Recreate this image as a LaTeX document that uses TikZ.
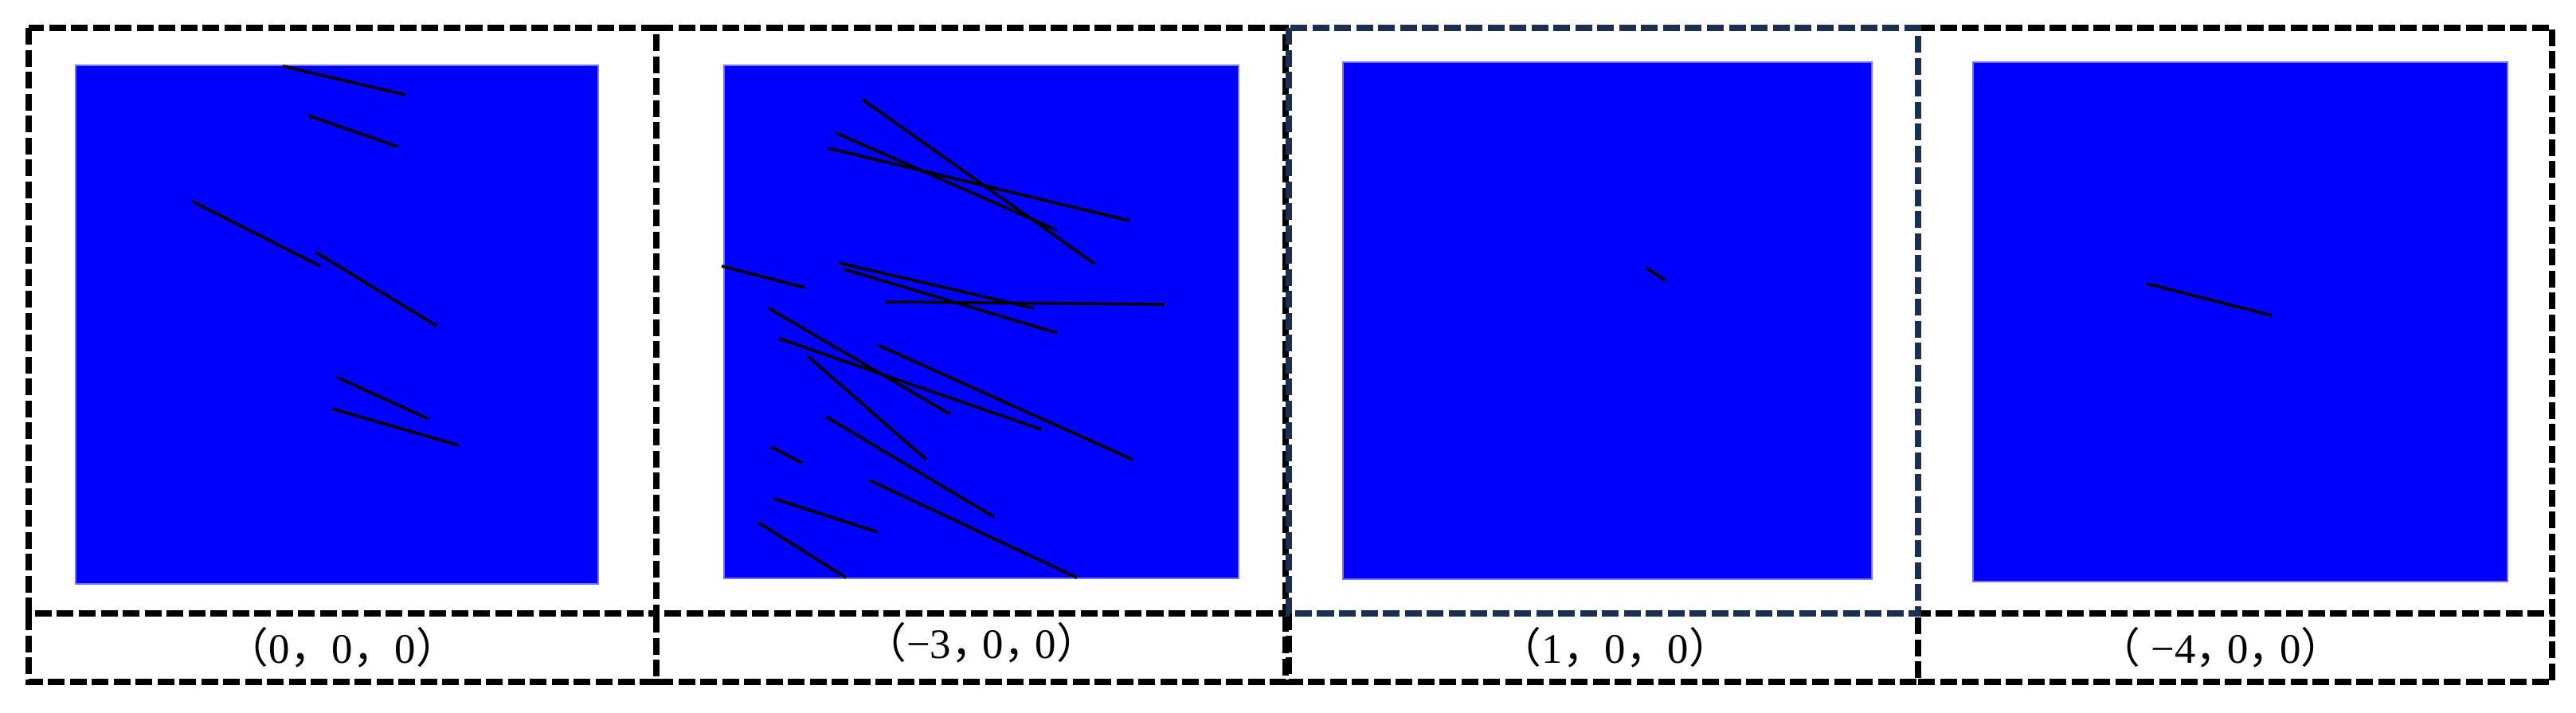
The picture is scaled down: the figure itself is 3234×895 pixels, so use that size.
\documentclass[tikz,border=0pt]{standalone}
\usepackage{fontspec}
\setmainfont{Liberation Serif}
\newfontfamily\cjk{Noto Sans CJK SC}
\definecolor{navyline}{HTML}{1B2F52}
\definecolor{pureblue}{RGB}{0,0,255}
\newcommand{\mylp}{{\cjk （}}
\newcommand{\myrp}{{\cjk ）}}
\newcommand{\mycm}{{\cjk ，}}
\newcommand{\mycn}{{\cjk ，}\kern-0.25em}
\begin{document}
\begin{tikzpicture}[x=0.01cm,y=-0.01cm]
\tikzset{
  frame/.style={draw=black,line width=0.088cm,dash pattern=on 0.21cm off 0.065cm},
  navyframe/.style={frame,draw=navyline},
  field/.style={fill=pureblue,draw=pureblue!55!white,line width=0.012cm},
  crack/.style={draw=black,line width=0.036cm},
  lbl/.style={anchor=base,inner sep=0pt,font=\fontsize{15}{18}\selectfont}
}
\useasboundingbox (0,0) rectangle (3234,895);
% blue fields
\path[field] (95,82) rectangle (751,733);
\path[field] (909,82) rectangle (1555,726);
\path[field] (1686,78) rectangle (2350,727);
\path[field] (2477,78) rectangle (3148,730);
% panel 1 cracks
\draw[crack] (355,83) -- (509,119);
\draw[crack] (387,145) -- (499,184);
\draw[crack] (242,253) -- (402,334);
\draw[crack] (397,317) -- (548,409);
\draw[crack] (424,474) -- (538,526);
\draw[crack] (417,513) -- (576,559);
% panel 2 cracks
\draw[crack] (1083,125) -- (1374,331);
\draw[crack] (1050,167) -- (1327,289);
\draw[crack] (1040,186) -- (1418,277);
\draw[crack] (906,334) -- (1010,361);
\draw[crack] (1053,330) -- (1298,387);
\draw[crack] (1060,338) -- (1327,418);
\draw[crack] (1112,379) -- (1461,382);
\draw[crack] (965,387) -- (1193,520);
\draw[crack] (1102,433) -- (1422,577);
\draw[crack] (978,425) -- (1307,539);
\draw[crack] (1014,447) -- (1163,577);
\draw[crack] (1037,523) -- (1248,649);
\draw[crack] (968,561) -- (1007,581);
\draw[crack] (1092,603) -- (1352,725);
\draw[crack] (972,626) -- (1102,668);
\draw[crack] (952,656) -- (1062,725);
% panel 3 and 4 cracks
\draw[crack] (2066,336) -- (2091,352);
\draw[crack] (2695,356) -- (2852,396);
% frames, panel 1
\draw[frame] (36,35) rectangle (824,770);
\draw[frame] (36,770) -- (36,856) -- (824,856) -- (824,770);
% panel 2
\draw[frame] (824,35) -- (1614,35) -- (1614,770) -- (824,770);
\draw[frame] (824,856) -- (1614,856) -- (1614,770);
% panel 3
\draw[frame] (1618,770) -- (1618,856) -- (2408,856) -- (2408,770);
% panel 4
\draw[frame] (2408,35) -- (3204,35) -- (3204,770) -- (2408,770);
\draw[frame] (2408,856) -- (3204,856) -- (3204,770);
% panel 3 top box, navy
\draw[navyframe] (1618,35) rectangle (2408,770);
% labels
\node[lbl] (l1) at (430,833) {\mylp0\mycm0\mycm0\myrp};
\node[lbl] (l2) at (1232,827) {\mylp−3\mycn0\mycn0\myrp};
\node[lbl] (l3) at (2028,833) {\mylp1\mycm0\mycm0\myrp};
\node[lbl] (l4) at (2788,833) {\mylp\ −4\mycn0\mycn0\myrp};
\end{tikzpicture}
\end{document}
